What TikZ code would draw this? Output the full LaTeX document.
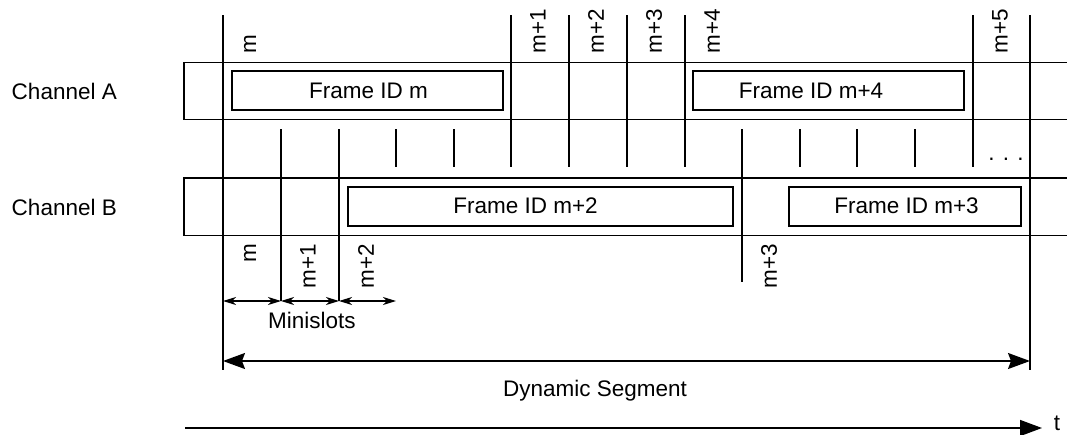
\documentclass[tikz,border=0pt]{standalone}
\usepackage{fontspec}
\setmainfont{Liberation Sans}
\usetikzlibrary{arrows.meta}
\begin{document}
\begin{tikzpicture}[x=1pt, y=-1pt, line width=1.5pt,
  font=\fontsize{22.5}{27}\selectfont,
  framebox/.style={draw, line width=2pt, inner sep=0pt, minimum height=39},
  slotlab/.style={rotate=90, inner sep=0pt},
  txt/.style={anchor=base, inner sep=0pt},
  segarrow/.style={{Stealth[length=22pt, width=16pt, inset=3pt]}-{Stealth[length=22pt, width=16pt, inset=3pt]}},
  miniarrow/.style={{Stealth[length=13pt, width=8pt, inset=4pt]}-{Stealth[length=13pt, width=8pt, inset=4pt]}},
  timearrow/.style={-{Triangle[length=22pt, width=16pt]}}]
\useasboundingbox (0,0) rectangle (1067,434);
% channel bands
\draw (1067,62.5) -- (184,62.5) -- (184,119.5) -- (1067,119.5);
\draw (1067,178) -- (184,178) -- (184,235.5) -- (1067,235.5);
\node[txt, anchor=base west] (chA) at (11,99) {Channel A};
\node[txt, anchor=base west] (chB) at (11,215) {Channel B};
% slot boundaries
\draw (223,15) -- (223,370);
\draw (1030,15) -- (1030,370);
\foreach \x in {511,569,627,685,973} \draw (\x,15) -- (\x,167);
\foreach \x in {281,339} \draw (\x,129) -- (\x,301);
\draw (742,129) -- (742,282);
\foreach \x in {396,454,800,857,915} \draw (\x,129) -- (\x,167);
\node[txt] (dots) at (1006,160) {. . .};
% slot counters
\foreach \x/\lab/\n in {223/m/0, 511/m+1/1, 569/m+2/2, 627/m+3/3, 685/m+4/4, 973/m+5/5}
  \node[slotlab, anchor=west] (cntA\n) at (\x+27,54) {\lab};
\foreach \x/\lab/\n in {223/m/0, 281/m+1/1, 339/m+2/2, 742/m+3/3}
  \node[slotlab, anchor=east] (cntB\n) at (\x+27,243) {\lab};
% frames
\node[framebox, minimum width=271] (frameM) at (367.5,90.5) {};
\node[txt] (lblM) at (368.5,98) {Frame ID m};
\node[framebox, minimum width=271] (frameM4) at (828.5,90.5) {};
\node[txt] (lblM4) at (811,98) {Frame ID m+4};
\node[framebox, minimum width=385] (frameM2) at (540.5,206) {};
\node[txt] (lblM2) at (525.5,213) {Frame ID m+2};
\node[framebox, minimum width=232] (frameM3) at (905,206) {};
\node[txt] (lblM3) at (906.5,213) {Frame ID m+3};
% minislots
\coordinate (ms0) at (223,301);
\coordinate (ms1) at (281,301);
\coordinate (ms2) at (339,301);
\coordinate (ms3) at (396,301);
\draw[miniarrow] (ms0) -- (ms1);
\draw[miniarrow] (ms1) -- (ms2);
\draw[miniarrow] (ms2) -- (ms3);
\node[txt] (mini) at (312,328) {Minislots};
% dynamic segment
\coordinate (segL) at (223,361);
\coordinate (segR) at (1030,361);
\draw[segarrow] (segL) -- (segR);
\node[txt] (dyn) at (595,396) {Dynamic Segment};
% time axis
\coordinate (t0) at (185,428);
\coordinate (t1) at (1042,428);
\draw[timearrow] (t0) -- (t1);
\node[txt, anchor=base west] (tlab) at (1053,430) {t};
\end{tikzpicture}
\end{document}
